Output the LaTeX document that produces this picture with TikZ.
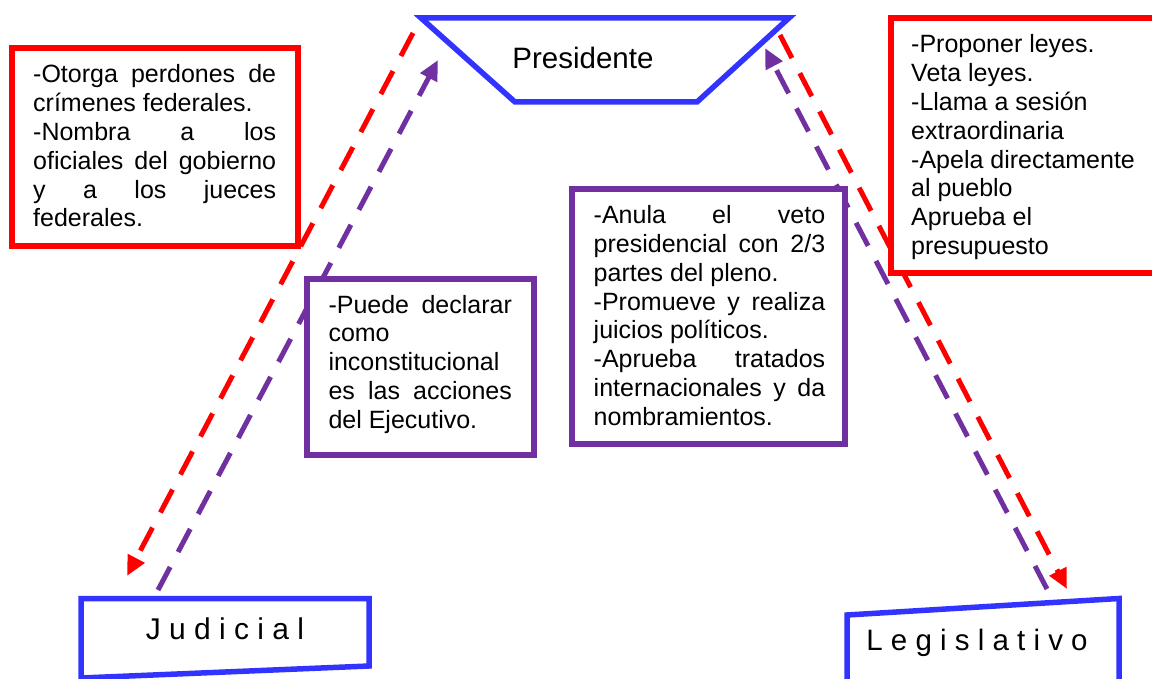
\documentclass[tikz,border=0pt]{standalone}
\usepackage{fontspec}
\setmainfont{Liberation Sans}
\usetikzlibrary{arrows.meta}
\pgfdeclarelayer{bg}
\pgfsetlayers{bg,main}
\definecolor{cred}{RGB}{255,0,0}
\definecolor{cblue}{RGB}{51,51,255}
\definecolor{cpurp}{RGB}{112,48,160}
\newcommand\jl[2]{\hbox to #1{#2}}
\newcommand\lft[1]{\hbox{#1}}
\newcommand\txtblock[1]{\vbox{\baselineskip=28.8pt\lineskip=0pt\lineskiplimit=-100pt #1}}
\tikzset{
  redbox/.style={draw=cred, line width=6pt, fill=white},
  purpbox/.style={draw=cpurp, line width=6pt, fill=white},
  bluebox/.style={draw=cblue, line width=5.5pt, fill=white, line join=miter},
  body/.style={anchor=base west, inner sep=0pt, font=\fontsize{25}{28.8}\selectfont},
  title/.style={anchor=base, inner sep=0pt, font=\fontsize{29.5}{34}\selectfont},
  redarrow/.style={draw=cred, line width=5pt, dash pattern=on 26pt off 17pt, -{Triangle[length=20pt,width=18pt]}},
  purparrow/.style={draw=cpurp, line width=5pt, dash pattern=on 26pt off 17pt, -{Triangle[length=20pt,width=18pt]}}
}
\begin{document}
\begin{tikzpicture}[x=1pt,y=-1pt]
\useasboundingbox (0,0) rectangle (1152,679);
\clip (0,0) rectangle (1152,679);

% ---- shapes of the three branches
\draw[bluebox] (421,18) -- (789,18) -- (697,102) -- (515,102) -- cycle;
\node[title] (pres) at (583,69) {Presidente};

\draw[bluebox] (81,598.5) -- (369,598.5) -- (369,666) -- (81,678) -- cycle;
\node[title, font=\fontsize{30}{34}\selectfont] (jud) at (225,639) {J u d i c i a l};

\draw[bluebox] (847,615) -- (1119,598.5) -- (1119,710) -- (847,710) -- cycle;
\node[title] (leg) at (977,650) {L e g i s l a t i v o};

% ---- arrow end points
\coordinate (pRedL) at (413,33);
\coordinate (jRed) at (127,576);
\coordinate (jPur) at (158,590);
\coordinate (pPurL) at (438,60);
\coordinate (pRedR) at (780,35);
\coordinate (lRed) at (1067,589);
\coordinate (lPur) at (1047,589);
\coordinate (pPurR) at (765,48);

\begin{pgfonlayer}{bg}
\fill[white] (0,0) rectangle (1152,679);
\draw[redarrow] (pRedL) -- (jRed);
\draw[purparrow] (jPur) -- (pPurL);
\draw[redarrow] (pRedR) -- (lRed);
\draw[purparrow] (lPur) -- (pPurR);
\end{pgfonlayer}

% ---- red box (left)
\draw[redbox] (12,48) rectangle (298,246);
\node[body] (tRedL) at (33,227) {\txtblock{%
\jl{243pt}{-Otorga perdones de}
\lft{crímenes federales.}
\jl{243pt}{-Nombra a los}
\jl{243pt}{oficiales del gobierno}
\jl{243pt}{y a los jueces}
\lft{federales.}}};

% ---- red box (right)
\draw[redbox] (890.5,18) rectangle (1170,273);
\node[body] (tRedR) at (911,254.6) {\txtblock{%
\lft{-Proponer leyes.}
\lft{Veta leyes.}
\lft{-Llama a sesión}
\lft{extraordinaria}
\lft{-Apela directamente}
\lft{al pueblo}
\lft{Aprueba el}
\lft{presupuesto}}};

% ---- purple box (left)
\draw[purpbox] (306.7,279) rectangle (534,454.5);
\node[body] (tPurL) at (328.3,428.3) {\txtblock{%
\jl{183.4pt}{-Puede declarar}
\lft{como}
\lft{inconstitucional}
\jl{183.4pt}{es las acciones}
\lft{del Ejecutivo.}}};

% ---- purple box (middle)
\draw[purpbox] (571.5,189.5) rectangle (845,443.5);
\node[body] (tPurM) at (593.5,425.2) {\txtblock{%
\jl{231.5pt}{-Anula el veto}
\jl{231.5pt}{presidencial con 2/3}
\lft{partes del pleno.}
\jl{231.5pt}{-Promueve y realiza}
\lft{juicios políticos.}
\jl{231.5pt}{-Aprueba tratados}
\jl{231.5pt}{internacionales y da}
\lft{nombramientos.}}};
\end{tikzpicture}
\end{document}
